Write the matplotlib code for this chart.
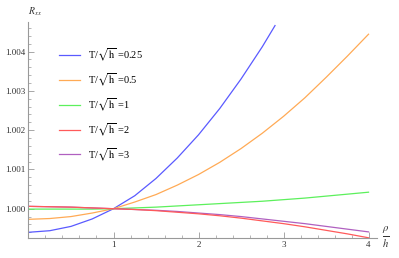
import numpy as np
import matplotlib.pyplot as plt

plt.rcParams['font.family'] = ['Liberation Serif', 'DejaVu Serif']
plt.rcParams['mathtext.fontset'] = 'stix'

# rho/h grid
x = [0, 0.25, 0.5, 0.75, 1, 1.25, 1.5, 1.75, 2, 2.25, 2.5, 2.75, 3, 3.25, 3.5, 3.75, 4]
x_blue = [0, 0.25, 0.5, 0.75, 1, 1.25, 1.5, 1.75, 2, 2.25, 2.5, 2.75, 2.9]

r_025 = [0.99940, 0.99944, 0.99955, 0.99974, 1.00000, 1.00033, 1.00077, 1.00129,
         1.00188, 1.00255, 1.00330, 1.00412, 1.00466]
r_05 = [0.99973, 0.99975, 0.99980, 0.99989, 1.00000, 1.00017, 1.00036, 1.00060,
        1.00087, 1.00118, 1.00153, 1.00192, 1.00235, 1.00282, 1.00334, 1.00388, 1.00444]
r_1 = [0.99999, 0.99999, 0.99999, 0.99999, 1.00000, 1.00002, 1.00004, 1.00007,
       1.00010, 1.00013, 1.00016, 1.00019, 1.00023, 1.00027, 1.00032, 1.00037, 1.00042]
r_2 = [1.00006, 1.00005, 1.00004, 1.00002, 1.00000, 0.99998, 0.99995, 0.99991,
       0.99987, 0.99982, 0.99976, 0.99969, 0.99962, 0.99954, 0.99945, 0.99936, 0.99926]
r_3 = [1.00006, 1.00005, 1.00004, 1.00002, 1.00000, 0.99998, 0.99996, 0.99993,
       0.99989, 0.99985, 0.99980, 0.99974, 0.99968, 0.99962, 0.99955, 0.99948, 0.99941]

labels = ['0.25', '0.5', '1', '2', '3']
colors = ['#5a5aff', '#ffaa55', '#5cf05c', '#ff5a5a', '#b060c0']

fig = plt.figure(figsize=(3.99, 2.58), dpi=100)
ax = fig.add_axes([0.0714, 0.0756, 0.8727, 0.839])

series = [(x_blue, r_025), (x, r_05), (x, r_1), (x, r_3), (x, r_2)]
order = [0, 1, 2, 4, 3]
for (xs, ys), i in zip(series, order):
    ax.plot(xs, ys, color=colors[i], lw=0.9,
            label=r'T/$\sqrt{\mathrm{h}}$ =' + labels[i])

ax.set_xlim(0, 4.096)
ax.set_ylim(0.999242, 1.00475)

for s in ['top', 'right']:
    ax.spines[s].set_visible(False)
for s in ['left', 'bottom']:
    ax.spines[s].set_color('#999999')
    ax.spines[s].set_linewidth(0.8)

ax.set_xticks([1, 2, 3, 4])
ax.set_xticks(np.arange(0, 4.01, 0.2), minor=True)
ax.set_yticks([1.000, 1.001, 1.002, 1.003, 1.004])
ax.set_yticklabels(['1.000', '1.001', '1.002', '1.003', '1.004'])
ax.set_yticks(np.arange(0.9994, 1.00475, 0.0002), minor=True)
ax.tick_params(which='both', direction='in', colors='#999999', labelcolor='#333333',
               labelsize=6.5, pad=2)
ax.tick_params(which='major', length=4, width=0.6)
ax.tick_params(which='minor', length=2, width=0.5)

handles, labs = ax.get_legend_handles_labels()
idx = [0, 1, 2, 4, 3]
ax.legend([handles[i] for i in idx], [labs[i] for i in idx],
          loc='upper left', bbox_to_anchor=(0.06, 0.93), frameon=False,
          fontsize=7.5, handlelength=2.0, handletextpad=0.8, labelspacing=0.77)

fig.text(0.088, 0.955, r'$R_{xx}$', fontsize=7, ha='center', va='center', color='#333333')
fig.text(0.966, 0.08, r'$\frac{\rho}{h}$', fontsize=11, ha='center', va='center', color='#333333')

fig.savefig('out.png', dpi=100)
